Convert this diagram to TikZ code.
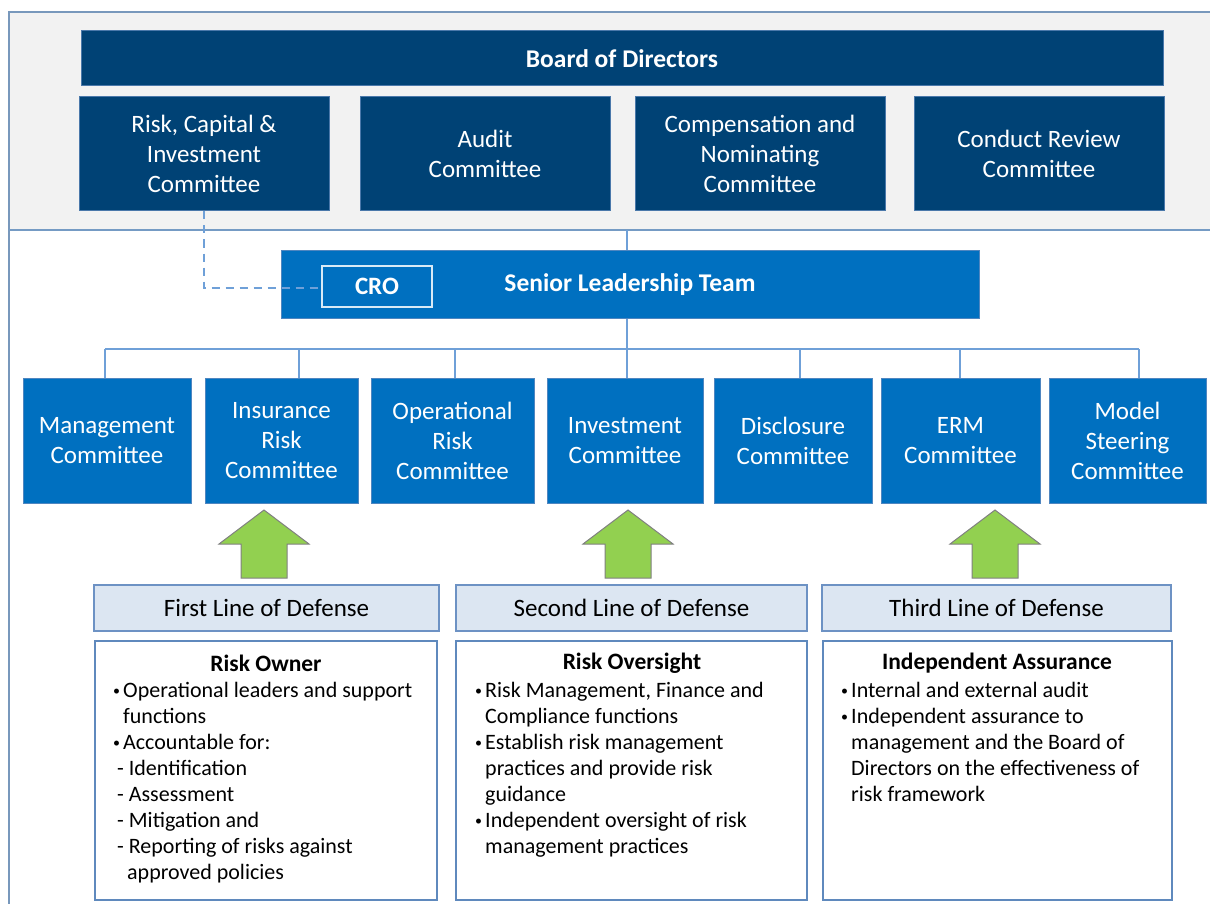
\documentclass[tikz,border=0pt]{standalone}
\usepackage{fontspec}
\setmainfont{Carlito}
\definecolor{navy}{HTML}{004275}
\definecolor{navyline}{HTML}{4A78AA}
\definecolor{midblue}{HTML}{0070C0}
\definecolor{midline}{HTML}{4F86C0}
\definecolor{connblue}{HTML}{6FA0D8}
\definecolor{framecol}{HTML}{7898BC}
\definecolor{bggray}{HTML}{F2F2F2}
\definecolor{labelfill}{HTML}{DCE6F2}
\definecolor{labelline}{HTML}{6D92C4}
\definecolor{boxline}{HTML}{5F89BD}
\definecolor{arrowgreen}{HTML}{92D050}
\definecolor{arrowgray}{HTML}{808080}
\tikzset{
  navybox/.style={fill=navy, draw=navyline, line width=1pt, text=white, align=center, inner sep=0pt,
    font=\fontsize{25pt}{30pt}\selectfont},
  bluebox/.style={fill=midblue, draw=midline, line width=1pt, text=white, align=center, inner sep=0pt,
    font=\fontsize{25pt}{30pt}\selectfont},
  crobox/.style={fill=midblue, draw=white!85!midblue, line width=1.2pt, text=white, inner sep=0pt,
    font=\fontsize{25pt}{30pt}\selectfont\bfseries},
  conn/.style={draw=connblue, line width=1.5pt},
  dashconn/.style={draw=connblue, line width=2pt, dash pattern=on 8pt off 6pt},
  deflabel/.style={fill=labelfill, draw=labelline, line width=1.2pt, inner sep=0pt,
    minimum height=46pt, font=\fontsize{25pt}{28pt}\selectfont},
  contentbox/.style={fill=white, draw=boxline, line width=1.5pt, inner sep=0pt, minimum height=259pt},
  boxtitle/.style={inner sep=0pt, font=\fontsize{23.5pt}{28pt}\selectfont\bfseries},
  bodytext/.style={inner sep=0pt, anchor=base west},
  garrow/.pic={\filldraw[fill=arrowgreen, draw=arrowgray, line width=1pt]
    (0,0) -- (45,34) -- (23,34) -- (23,68) -- (-23,68) -- (-23,34) -- (-45,34) -- cycle;}
}
\newcommand{\bodyfont}{\fontsize{22pt}{26pt}\selectfont}
\newcommand{\bul}{\makebox[10pt][l]{\raisebox{1.2pt}{\fontsize{14pt}{14pt}\selectfont\textbullet}}}
\begin{document}
\begin{tikzpicture}[x=1pt, y=-1pt]
\useasboundingbox (0,0) rectangle (1210,904);
% frame
\fill[bggray] (9,12) rectangle (1210,230);
\draw[framecol, line width=2pt] (1210,12) -- (9,12) -- (9,904);
\draw[framecol!70!connblue, line width=2pt] (9,230) -- (1210,230);

% board
\node[navybox, minimum width=1082pt, minimum height=55pt, font=\fontsize{25.5pt}{30pt}\selectfont\bfseries] (board) at (622,58.5) {Board of Directors};
\node[navybox, minimum width=250pt, minimum height=114pt] (rc) at (204,154) {Risk, Capital \&\\Investment\\Committee};
\node[navybox, minimum width=250pt, minimum height=114pt] (audit) at (485,154) {Audit\\Committee};
\node[navybox, minimum width=250pt, minimum height=114pt] (comp) at (760,154) {Compensation and\\Nominating\\Committee};
\node[navybox, minimum width=250pt, minimum height=114pt] (conduct) at (1039,154) {Conduct Review\\Committee};

% senior leadership
\coordinate (div) at (627,230);
\node[bluebox, minimum width=698pt, minimum height=68pt] (slt) at (630,284) {};
\node[text=white, inner sep=0pt, font=\fontsize{25.5pt}{30pt}\selectfont\bfseries] (slttext) at (630,285) {Senior Leadership Team};
\draw[conn] (div) -- (div |- slt.north);
\draw[dashconn] (rc.south) -- (rc.south |- 0,288) -- (322,288);
\node[crobox, minimum width=110pt, minimum height=41pt] (cro) at (377,286.5) {CRO};

% committees
\node[bluebox, minimum width=168pt, minimum height=125pt] (mgmt) at (107,440.5) {Management\\Committee};
\node[bluebox, minimum width=153pt, minimum height=125pt] (ins) at (281.5,440.5) {Insurance\\Risk\\Committee};
\node[bluebox, minimum width=163pt, minimum height=125pt] (ops) at (452.5,440.5) {Operational\\Risk\\Committee};
\node[bluebox, minimum width=156pt, minimum height=125pt] (inv) at (625,440.5) {Investment\\Committee};
\node[bluebox, minimum width=158pt, minimum height=125pt] (disc) at (793,440.5) {Disclosure\\Committee};
\node[bluebox, minimum width=159pt, minimum height=125pt] (erm) at (960.5,440.5) {ERM\\Committee};
\node[bluebox, minimum width=157pt, minimum height=125pt] (model) at (1127.5,440.5) {Model\\Steering\\Committee};

% bus
\coordinate (b1) at (105,349);
\coordinate (b2) at (299,349);
\coordinate (b3) at (455,349);
\coordinate (b4) at (627,349);
\coordinate (b5) at (800,349);
\coordinate (b6) at (960,349);
\coordinate (b7) at (1139,349);
\draw[conn] (b4 |- slt.south) -- (b4);
\draw[conn] (b1) -- (b7);
\draw[conn] (b1) -- (b1 |- mgmt.north);
\draw[conn] (b2) -- (b2 |- ins.north);
\draw[conn] (b3) -- (b3 |- ops.north);
\draw[conn] (b4) -- (b4 |- inv.north);
\draw[conn] (b5) -- (b5 |- disc.north);
\draw[conn] (b6) -- (b6 |- erm.north);
\draw[conn] (b7) -- (b7 |- model.north);

% arrows
\pic at (264,510) {garrow};
\pic at (628,510) {garrow};
\pic at (995,510) {garrow};

% defense labels
\node[deflabel, minimum width=345pt] (l1) at (266.5,608) {First Line of Defense};
\node[deflabel, minimum width=351pt] (l2) at (631.5,608) {Second Line of Defense};
\node[deflabel, minimum width=349pt] (l3) at (996.5,608) {Third Line of Defense};

% content boxes
\node[contentbox, minimum width=342pt] (c1) at (266,770.5) {};
\node[contentbox, minimum width=351pt] (c2) at (631.5,770.5) {};
\node[contentbox, minimum width=349pt] (c3) at (997.5,770.5) {};

\node[boxtitle] (t1) at (266,663) {Risk Owner};
\node[boxtitle] (t2) at (632,663) {Risk Oversight};
\node[boxtitle] (t3) at (997,663) {Independent Assurance};

\node[bodytext] (d1) at (113,697) {\parbox[t]{320pt}{\bodyfont\raggedright
\bul Operational leaders and support\\
\hspace*{10pt}functions\\
\bul Accountable for:\\
\hspace*{4pt}- Identification\\
\hspace*{4pt}- Assessment\\
\hspace*{4pt}- Mitigation and\\
\hspace*{4pt}- Reporting of risks against\\
\hspace*{14pt}approved policies}};

\node[bodytext] (d2) at (475,697) {\parbox[t]{320pt}{\bodyfont\raggedright
\bul Risk Management, Finance and\\
\hspace*{10pt}Compliance functions\\
\bul Establish risk management\\
\hspace*{10pt}practices and provide risk\\
\hspace*{10pt}guidance\\
\bul Independent oversight of risk\\
\hspace*{10pt}management practices}};

\node[bodytext] (d3) at (841,697) {\parbox[t]{320pt}{\bodyfont\raggedright
\bul Internal and external audit\\
\bul Independent assurance to\\
\hspace*{10pt}management and the Board of\\
\hspace*{10pt}Directors on the effectiveness of\\
\hspace*{10pt}risk framework}};
\end{tikzpicture}
\end{document}
